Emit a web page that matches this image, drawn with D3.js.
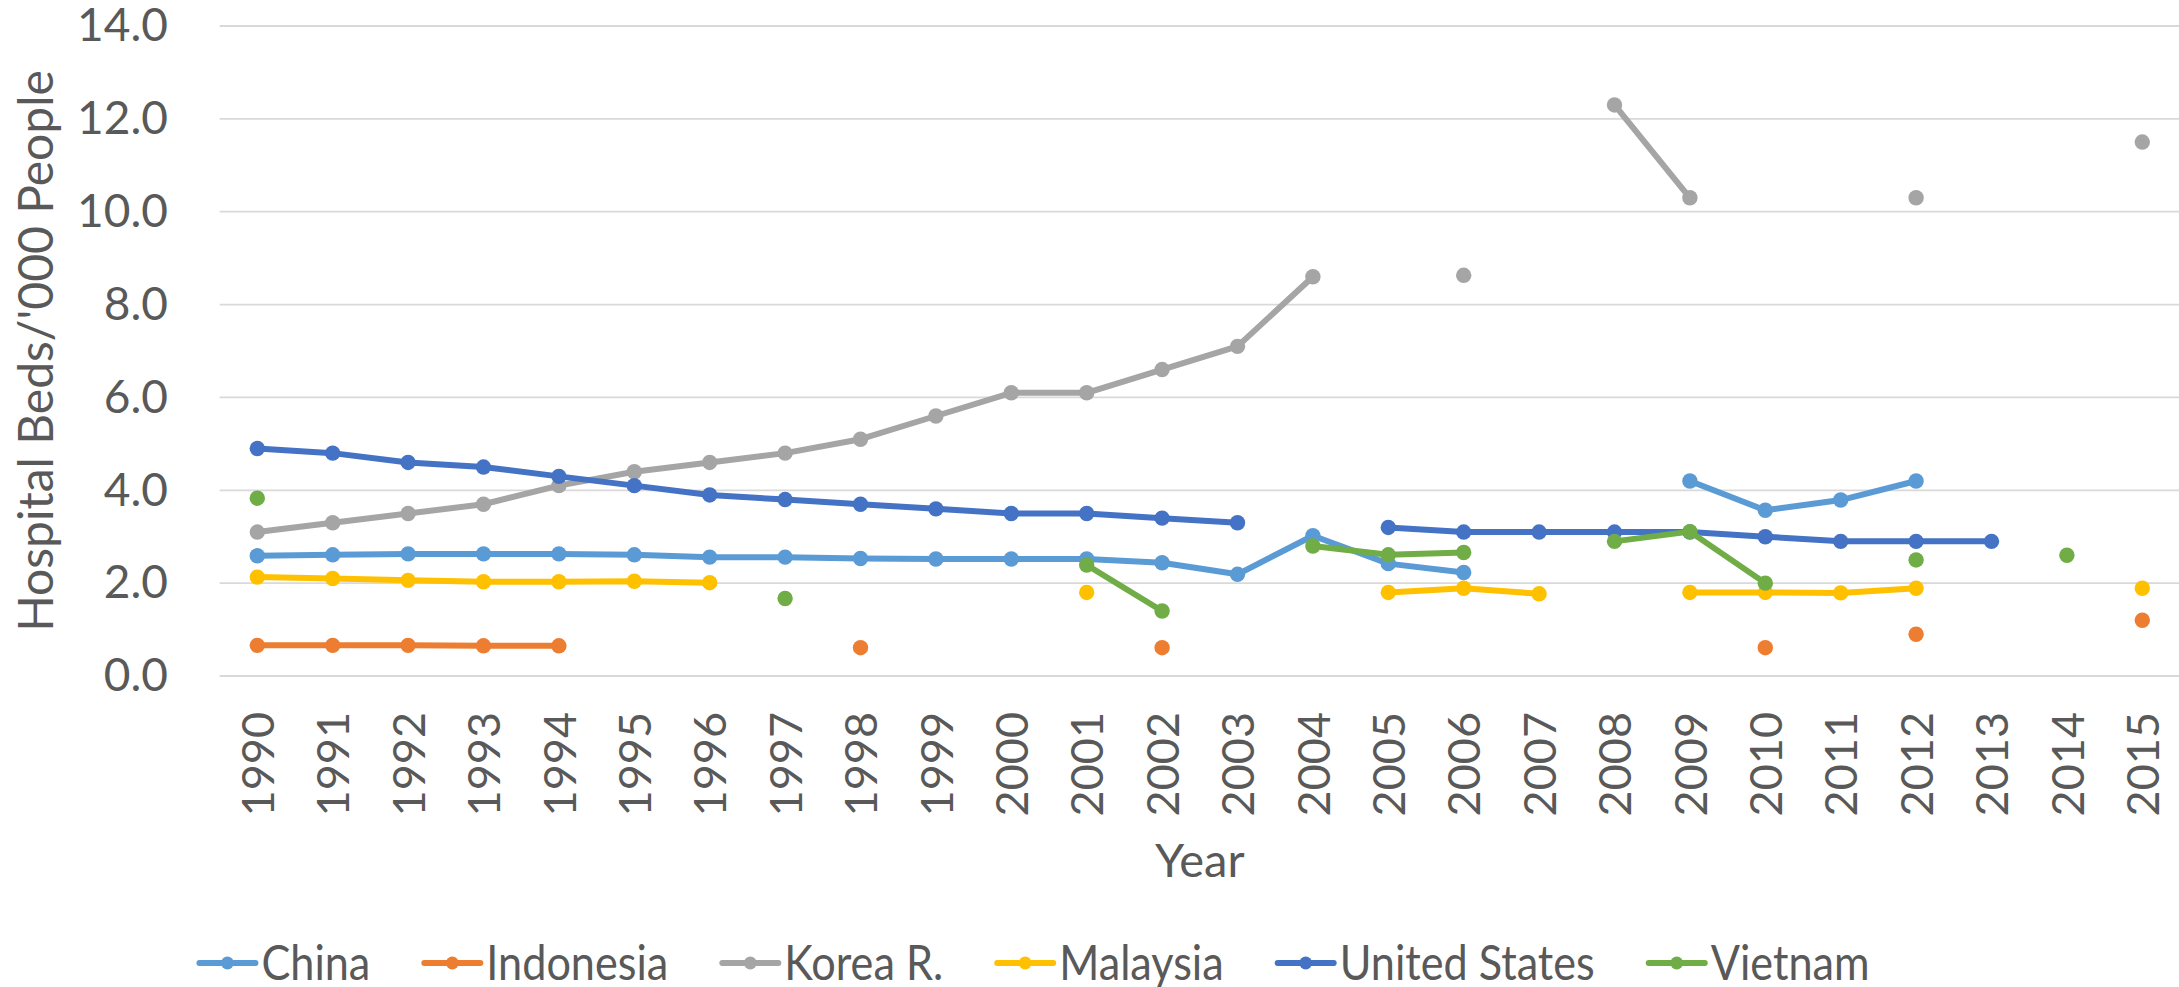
<!DOCTYPE html>
<html>
<head>
<meta charset="utf-8">
<script src="https://cdn.jsdelivr.net/npm/d3@7"></script>
<style>
  html, body { margin: 0; padding: 0; background: #fff; }
  svg { display: block; }
  text { font-family: Lato, "Open Sans", sans-serif; fill: #595959; }
</style>
</head>
<body>
<svg id="chart" width="2179" height="987"></svg>
<script>
const years = [1990,1991,1992,1993,1994,1995,1996,1997,1998,1999,2000,2001,2002,2003,2004,2005,2006,2007,2008,2009,2010,2011,2012,2013,2014,2015];
const yTicks = [0,2,4,6,8,10,12,14];
const seriesNames = ["China","Indonesia","Korea R.","Malaysia","United States","Vietnam"];
const seriesColors = ["#5B9BD5","#ED7D31","#A5A5A5","#FFC000","#4472C4","#70AD47"];

const china     = [2.59,2.61,2.63,2.63,2.63,2.61,2.56,2.56,2.53,2.52,2.52,2.52,2.44,2.19,3.02,2.42,2.23,null,null,4.20,3.57,3.79,4.20,null,null,null];
const indonesia = [0.66,0.66,0.66,0.65,0.65,null,null,null,0.61,null,null,null,0.61,null,null,null,null,null,null,null,0.61,null,0.90,null,null,1.20];
const korea     = [3.10,3.30,3.50,3.70,4.10,4.40,4.60,4.80,5.10,5.60,6.10,6.10,6.60,7.10,8.60,null,8.63,null,12.30,10.30,null,null,10.30,null,null,11.50];
const malaysia  = [2.13,2.10,2.06,2.03,2.03,2.04,2.01,null,null,null,null,1.80,null,null,null,1.80,1.89,1.77,null,1.80,1.80,1.79,1.89,null,null,1.89];
const usa       = [4.90,4.80,4.60,4.50,4.30,4.10,3.90,3.80,3.70,3.60,3.50,3.50,3.40,3.30,null,3.20,3.10,3.10,3.10,3.10,3.00,2.90,2.90,2.90,null,null];
const vietnam   = [3.83,null,null,null,null,null,null,1.67,null,null,null,2.39,1.40,null,2.80,2.61,2.66,null,2.90,3.11,2.00,null,2.50,null,2.60,null];

const seriesValues = [china, indonesia, korea, malaysia, usa, vietnam];

const svg = d3.select("#chart");
const plotL = 219.6, plotR = 2180, plotT = 26, plotB = 676;

const x = d3.scalePoint().domain(years).range([plotL, plotR]).padding(0.5);
const y = d3.scaleLinear().domain([0, 14]).range([plotB, plotT]);

// gridlines
svg.append("g")
  .selectAll("line")
  .data(yTicks)
  .join("line")
  .attr("x1", plotL).attr("x2", plotR)
  .attr("y1", d => y(d)).attr("y2", d => y(d))
  .attr("stroke", "#D9D9D9").attr("stroke-width", 1.8);

// y axis labels
const yAxis = d3.axisLeft(y).tickValues(yTicks).tickFormat(d3.format(".1f")).tickSize(0).tickPadding(0);
const gy = svg.append("g").attr("transform", `translate(168,0)`).call(yAxis);
gy.select(".domain").remove();
gy.selectAll("text").attr("font-size", 46).attr("fill", "#595959")
  .style("font-family", "Lato, 'Open Sans', sans-serif");

// x axis labels
const xAxis = d3.axisBottom(x).tickSize(0).tickPadding(0);
const gx = svg.append("g").attr("transform", `translate(0,712)`).call(xAxis);
gx.select(".domain").remove();
gx.selectAll("text")
  .attr("font-size", 45)
  .attr("fill", "#595959")
  .style("font-family", "Lato, 'Open Sans', sans-serif")
  .attr("text-anchor", "end")
  .attr("transform", "rotate(-90)")
  .attr("x", 0).attr("y", 0).attr("dy", "0.36em");

// axis titles
svg.append("text")
  .attr("x", (plotL + plotR) / 2).attr("y", 877)
  .attr("text-anchor", "middle").attr("font-size", 47)
  .text("Year");

svg.append("text")
  .attr("transform", `translate(53,${(plotT + plotB) / 2}) rotate(-90)`)
  .attr("text-anchor", "middle").attr("font-size", 48)
  .text("Hospital Beds/'000 People");

// series
const line = d3.line()
  .defined(d => d.v !== null)
  .x(d => x(d.year))
  .y(d => y(d.v));

const seriesData = seriesNames.map((name, i) => ({
  name, color: seriesColors[i],
  points: years.map((yr, j) => ({ year: yr, v: seriesValues[i][j] }))
}));

const gs = svg.append("g").selectAll("g").data(seriesData).join("g");
gs.append("path")
  .attr("d", d => line(d.points))
  .attr("fill", "none")
  .attr("stroke", d => d.color)
  .attr("stroke-width", 6)
  .attr("stroke-linejoin", "round");
gs.selectAll("circle")
  .data(d => d.points.filter(p => p.v !== null).map(p => ({ ...p, color: d.color })))
  .join("circle")
  .attr("cx", d => x(d.year))
  .attr("cy", d => y(d.v))
  .attr("r", 7.7)
  .attr("fill", d => d.color);

// legend
const legend = svg.append("g");
const legendFont = 48;
const squeeze = 0.9;
let cursor = 0;
seriesData.forEach((s, i) => {
  const g = legend.append("g");
  g.append("line").attr("x1", 0).attr("x2", 56).attr("y1", 0).attr("y2", 0)
    .attr("stroke", s.color).attr("stroke-width", 6).attr("stroke-linecap", "round");
  g.append("circle").attr("cx", 28).attr("cy", 0).attr("r", 6.5).attr("fill", s.color);
  const t = g.append("text")
    .attr("transform", `translate(62,0) scale(${squeeze},1)`)
    .attr("dy", "0.36em")
    .attr("font-size", legendFont).text(s.name);
  const w = t.node().getComputedTextLength() * squeeze;
  g.attr("transform", `translate(${cursor},0)`);
  cursor += 62 + w + (i < seriesData.length - 1 ? 54 : 0);
});
const legendCenter = (200 + 1869) / 2;
legend.attr("transform", `translate(${legendCenter - cursor / 2},963)`);
</script>
</body>
</html>
